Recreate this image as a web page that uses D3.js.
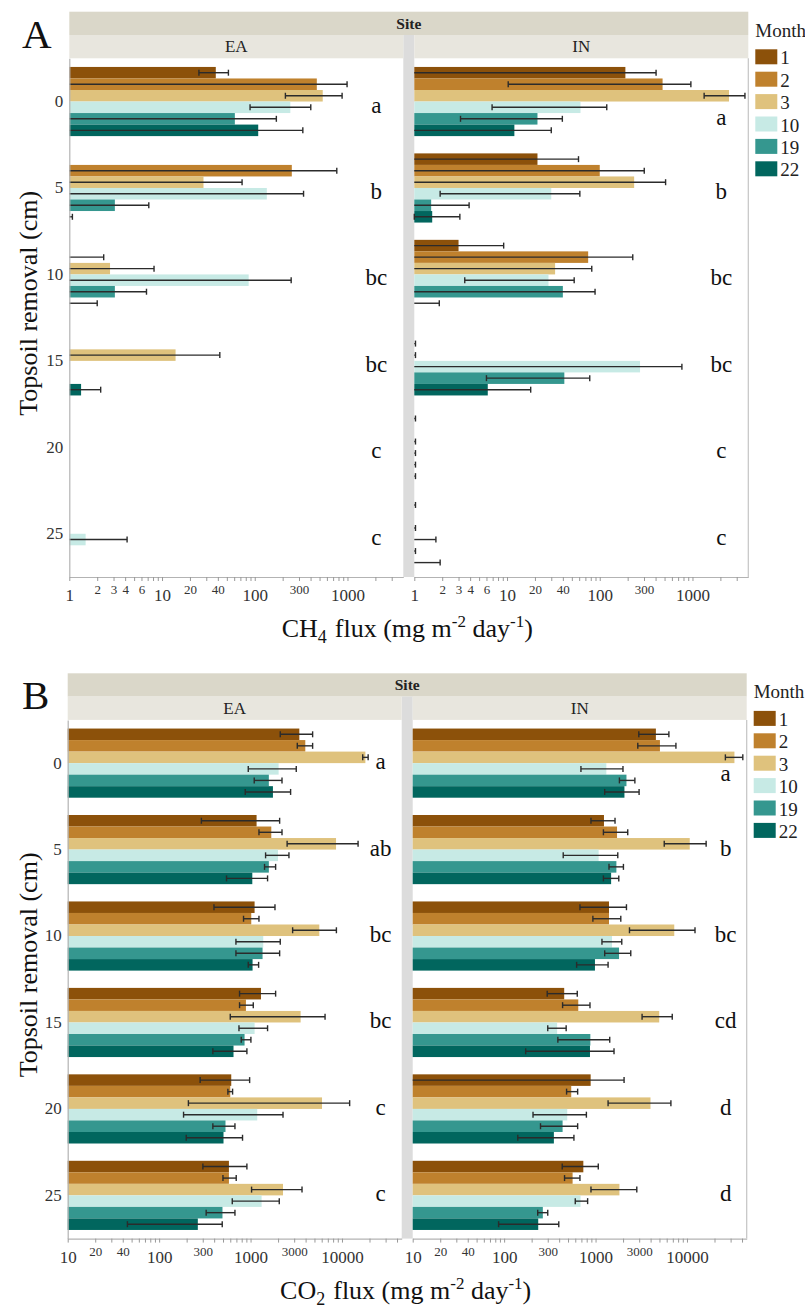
<!DOCTYPE html>
<html lang="en">
<head>
<meta charset="utf-8">
<title>CH4 and CO2 flux by topsoil removal</title>
<script src="https://cdn.jsdelivr.net/npm/d3@7"></script>
<style>
	body { margin: 0; background: #fff; }
	svg text { font-family: "Liberation Serif", "Times New Roman", serif; }
</style>
</head>
<body>
<script>
// categories
var depths = ["0", "5", "10", "15", "20", "25"];
var months = ["1", "2", "3", "10", "19", "22"];
var sites = ["EA", "IN"];
var monthColors = ["#8c510a", "#bf812d", "#dfc27d", "#c7eae5", "#35978f", "#01665e"];

// CH4 flux, rows = depth, cols = month (null = no bar / clipped lower end)
var ch4EA = [[38, 467, 541, 242, 61, 109], [null, 251, 28, 135, 3.1, null], [null, null, 2.75, 86, 3.1, null],
	[null, null, 14, null, null, 1.34], [null, null, null, null, null, null], [null, null, null, 1.5, null, null]];
var ch4EALo = [[25, null, 214, 89, null, null], [null, null, null, null, null, null], [null, null, null, null, null, null],
	[null, null, null, null, null, null], [null, null, null, null, null, null], [null, null, null, null, null, null]];
var ch4EAHi = [[52, 990, 875, 402, 171, 330], [null, 767, 73, 336, 7.2, 1.08], [null, 2.35, 8.2, 247, 6.8, 2.0],
	[null, null, 42, null, null, 2.18], [null, null, null, null, null, null], [null, null, null, 4.2, null, null]];

var ch4IN = [[189, 476, 2478, 62, 21.3, 12], [21.3, 100, 235, 30, 1.52, 1.56], [3.0, 75, 33, 28, 40, null],
	[null, null, null, 272, 41.5, 6.2], [null, null, null, null, null, null], [null, null, null, null, null, null]];
var ch4INLo = [[null, 10.3, 1336, 6.9, 3.15, null], [null, null, null, 1.9, null, 1.0], [null, null, null, 3.5, null, null],
	[null, null, null, null, 6.0, null], [null, null, null, null, null, null], [null, null, null, null, null, null]];
var ch4INHi = [[405, 961, 3680, 119, 39.5, 30], [59, 302, 513, 61, 3.9, 3.1], [9.2, 227, 82, 53, 89, 1.86],
	[null, 1.03, 1.03, 769, 78, 18], [1.03, null, 1.03, 1.03, 1.03, 1.03], [1.03, null, 1.03, 1.71, 1.03, 1.9]];

// CO2 flux
var co2EA = [[3415, 3970, 18030, 2028, 1585, 1757], [1164, 1686, 8610, 1995, 1585, 1045], [1107, 1018, 5650, 1377, 1353, 1052],
	[1300, 890, 3530, 1107, 860, 651], [615, 600, 6050, 1183, 532, 506], [580, 580, 2265, 1321, 493, 265]];
var co2EALo = [[2113, 3245, 16860, 944, 1097, 875], [290, 1236, 2512, 1460, 1422, 546], [398, 838, 2885, 692, 692, 944],
	[758, 758, 600, 747, 791, 387], [281, 565, 209, 185, 387, 198], [301, 499, 1026, 631, 327, 45]];
var co2EAHi = [[4775, 4775, 19330, 3162, 2208, 2742], [2080, 2208, 15000, 2630, 1880, 1535], [1850, 1236, 8690, 2113, 2080, 1225],
	[1880, 1071, 6530, 1535, 1009, 912], [977, 636, 12130, 2265, 675, 817], [912, 697, 3655, 2061, 675, 490]];

var co2IN = [[4570, 5060, 33040, 1312, 2178, 2070], [1236, 1718, 10720, 1081, 1690, 1480], [1403, 1403, 7260, 1514, 1807, 985],
	[454, 647, 4970, 380, 877, 869], [884, 542, 3990, 490, 436, 350], [735, 561, 1824, 685, 265, 236]];
var co2INLo = [[2972, 2897, 26300, 692, 1824, 1259], [891, 1219, 5640, 443, 1403, 1219], [675, 935, 2350, 1175, 1259, 621],
	[296, 436, 3228, 300, 387, 172], [null, 482, 1371, 207, 250, 141], [432, 458, 891, 600, 233, 87]];
var co2INHi = [[6340, 7570, 40800, 1995, 2692, 2994], [1633, 2249, 16200, 1750, 2018, 1795], [2178, 1888, 12240, 1935, 2427, 1371],
	[631, 869, 6900, 477, 1429, 1592], [2051, 637, 6670, 794, 637, 580], [1071, 675, 2825, 819, 300, 396]];

// significance letters
var ch4LettersEA = ["a", "b", "bc", "bc", "c", "c"];
var ch4LettersIN = ["a", "b", "bc", "bc", "c", "c"];
var co2LettersEA = ["a", "ab", "bc", "bc", "c", "c"];
var co2LettersIN = ["a", "b", "bc", "cd", "d", "d"];

// axis ticks
var ch4Domain = [1, 4000];
var ch4Major = [1, 10, 100, 1000];
var ch4MinorLabels = [2, 3, 4, 6, 20, 40, 300];
var co2Domain = [10, 45000];
var co2Major = [10, 100, 1000, 10000];
var co2MinorLabels = [20, 40, 300, 3000];

var W = 805, H = 1310;
var svg = d3.select("body").append("svg").attr("width", W).attr("height", H);

var panels = [
	{ tag: "A", top: 11.7, left: 69.3, gas: "CH", sub: "4", domain: ch4Domain, major: ch4Major, minorLabels: ch4MinorLabels,
		data: { EA: [ch4EA, ch4EALo, ch4EAHi], IN: [ch4IN, ch4INLo, ch4INHi] },
		letters: { EA: ch4LettersEA, IN: ch4LettersIN }, letterDx: 307, letterDy: 11 },
	{ tag: "B", top: 673.3, left: 67.7, gas: "CO", sub: "2", domain: co2Domain, major: co2Major, minorLabels: co2MinorLabels,
		data: { EA: [co2EA, co2EALo, co2EAHi], IN: [co2IN, co2INLo, co2INHi] },
		letters: { EA: co2LettersEA, IN: co2LettersIN }, letterDx: 313, letterDy: 6 }
];

var facetW = 334, gapW = 11, bandH = 23.3, plotH = 518.7;

panels.forEach(function(p) {
	var g = svg.append("g");
	var plotTop = p.top + 2 * bandH;
	var plotBottom = plotTop + plotH;
	var totalW = 2 * facetW + gapW;

	// Site band + facet bands
	g.append("rect").attr("x", p.left).attr("y", p.top).attr("width", totalW).attr("height", bandH).attr("fill", "#dad7c9");
	g.append("text").attr("x", p.left + totalW / 2).attr("y", p.top + 17).attr("text-anchor", "middle")
		.attr("font-size", 15.5).attr("font-weight", "bold").attr("fill", "#222").text("Site");

	// grey strip between the facets
	g.append("rect").attr("x", p.left + facetW).attr("y", p.top + bandH).attr("width", gapW)
		.attr("height", plotBottom - p.top - bandH).attr("fill", "#dcdcdc");

	var y = d3.scaleBand().domain(depths).range([plotTop, plotBottom]).paddingInner(0.2).paddingOuter(0.1);
	var yIn = d3.scaleBand().domain(months).range([0, y.bandwidth()]);

	sites.forEach(function(site, si) {
		var x0 = p.left + si * (facetW + gapW);
		var x = d3.scaleLog().domain(p.domain).range([x0, x0 + facetW]);
		var vals = p.data[site][0], lo = p.data[site][1], hi = p.data[site][2];

		g.append("rect").attr("x", x0).attr("y", p.top + bandH).attr("width", facetW).attr("height", bandH).attr("fill", "#e8e6de");
		g.append("text").attr("x", x0 + facetW / 2).attr("y", p.top + bandH + 17).attr("text-anchor", "middle")
			.attr("font-size", 17).attr("fill", "#222").text(site);

		// bars
		depths.forEach(function(d, di) {
			var gy = y(d);
			months.forEach(function(m, mi) {
				var v = vals[di][mi];
				if (v != null && v > p.domain[0]) {
					g.append("rect").attr("x", x(p.domain[0])).attr("y", gy + yIn(m))
						.attr("width", x(v) - x(p.domain[0])).attr("height", yIn.bandwidth())
						.attr("fill", monthColors[mi]);
				}
			});
		});

		// error bars
		depths.forEach(function(d, di) {
			var gy = y(d);
			months.forEach(function(m, mi) {
				var h = hi[di][mi];
				if (h == null) return;
				var l = lo[di][mi];
				var cy = gy + yIn(m) + yIn.bandwidth() / 2;
				var xa = l == null ? x(p.domain[0]) : x(l);
				var xb = x(h);
				g.append("line").attr("x1", xa).attr("x2", xb).attr("y1", cy).attr("y2", cy)
					.attr("stroke", "#2b2b2b").attr("stroke-width", 1.4);
				g.append("line").attr("x1", xb).attr("x2", xb).attr("y1", cy - 3).attr("y2", cy + 3)
					.attr("stroke", "#2b2b2b").attr("stroke-width", 1.4);
				if (l != null) {
					g.append("line").attr("x1", xa).attr("x2", xa).attr("y1", cy - 3).attr("y2", cy + 3)
						.attr("stroke", "#2b2b2b").attr("stroke-width", 1.4);
				}
			});
		});

		// letters
		depths.forEach(function(d, di) {
			var extra = (site == "IN" && di == 0) ? 12 : 0;
			g.append("text").attr("x", x0 + p.letterDx).attr("y", y(d) + y.bandwidth() / 2 + p.letterDy + extra)
				.attr("text-anchor", "middle").attr("font-size", 23).attr("fill", "#111")
				.text(p.letters[site][di]);
		});

		// x axis
		var tv = x.ticks().filter(function(t) { return t < p.domain[1] * 0.98; });
		var xAxis = d3.axisBottom(x).tickValues(tv).tickSize(4).tickSizeOuter(0)
			.tickFormat(function(t) {
				if (p.major.indexOf(t) >= 0 || p.minorLabels.indexOf(t) >= 0) return String(t);
				return "";
			});
		var ax = g.append("g").attr("transform", "translate(0," + plotBottom + ")").call(xAxis);
		ax.select(".domain").attr("stroke", "#b3b3b3").attr("stroke-width", 1.2);
		ax.selectAll(".tick line").attr("stroke", "#999");
		ax.selectAll(".tick text").attr("fill", "#333")
			.attr("font-size", function(t) { return p.major.indexOf(t) >= 0 ? 17 : 13; })
			.attr("y", function(t) { return p.major.indexOf(t) >= 0 ? 12 : 8; });

		if (si == 0) {
			var yAxis = d3.axisLeft(y).tickSize(0).tickPadding(6);
			var ay = g.append("g").attr("transform", "translate(" + x0 + ",0)").call(yAxis);
			ay.select(".domain").attr("stroke", "#b3b3b3").attr("stroke-width", 1.2);
			ay.selectAll(".tick text").attr("fill", "#333").attr("font-size", 17);
		} else {
			g.append("line").attr("x1", x0 + facetW).attr("x2", x0 + facetW).attr("y1", plotTop).attr("y2", plotBottom)
				.attr("stroke", "#c4c4c4").attr("stroke-width", 1.2);
		}
	});

	// panel tag
	g.append("text").attr("x", 22).attr("y", p.top + 36).attr("font-size", 41).attr("fill", "#111").text(p.tag);

	// y title
	g.append("text").attr("transform", "translate(37," + (plotTop + 245) + ") rotate(-90)")
		.attr("text-anchor", "middle").attr("font-size", 26).attr("fill", "#111").text("Topsoil removal (cm)");

	// x title with sub/superscripts
	var t = g.append("text").attr("x", p.left + 338).attr("y", plotBottom + 60).attr("text-anchor", "middle")
		.attr("font-size", 26).attr("fill", "#111");
	t.append("tspan").text(p.gas);
	t.append("tspan").attr("dy", 6).attr("font-size", 18).text(p.sub);
	t.append("tspan").attr("dy", -6).attr("dx", 8).text("flux (mg m");
	t.append("tspan").attr("dy", -10).attr("font-size", 17).text("-2");
	t.append("tspan").attr("dy", 10).text(" day");
	t.append("tspan").attr("dy", -10).attr("font-size", 17).text("-1");
	t.append("tspan").attr("dy", 10).text(")");

	// legend
	var lx = p.left + 686;
	g.append("text").attr("x", lx).attr("y", p.top + 25).attr("font-size", 19).attr("fill", "#222").text("Month");
	months.forEach(function(m, mi) {
		var ly = p.top + 37.6 + mi * 22.4;
		g.append("rect").attr("x", lx).attr("y", ly).attr("width", 22).attr("height", 15).attr("fill", monthColors[mi]);
		g.append("text").attr("x", lx + 25).attr("y", ly + 15).attr("font-size", 19).attr("fill", "#222").text(m);
	});
});
</script>
</body>
</html>
